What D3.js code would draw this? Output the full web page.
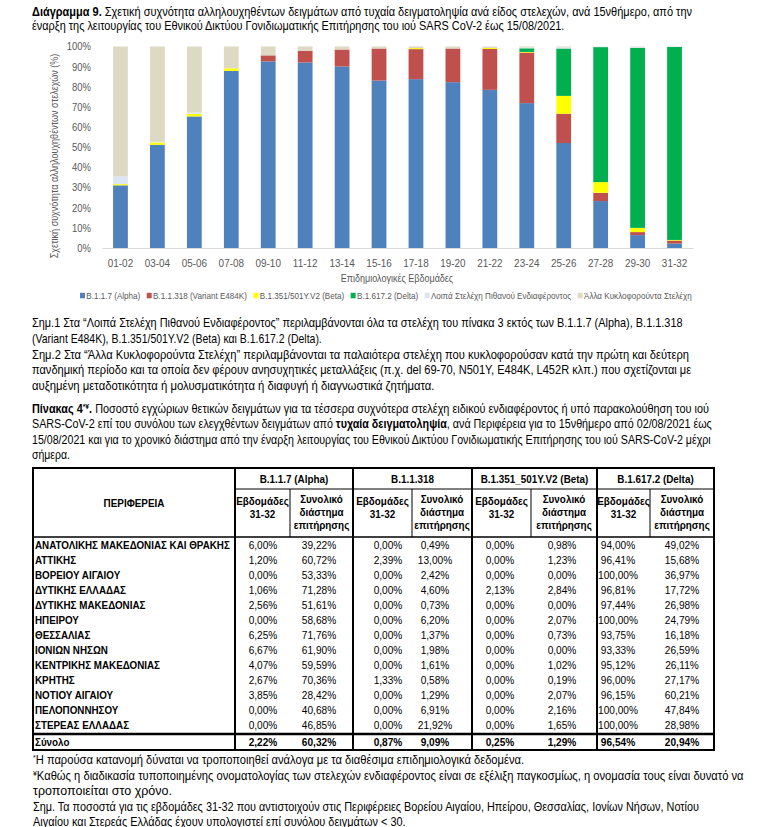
<!DOCTYPE html>
<html><head><meta charset="utf-8">
<script src="https://cdn.jsdelivr.net/npm/d3@7"></script>
<style>
html,body{margin:0;padding:0;background:#fff;}
svg{display:block;font-family:"Liberation Sans",Arial,sans-serif;}
</style></head>
<body>
<svg id="c" width="771" height="827"></svg>
<script>
// ---------- chart data ----------
const periods = ["01-02","03-04","05-06","07-08","09-10","11-12","13-14","15-16","17-18","19-20","21-22","23-24","25-26","27-28","29-30","31-32"];
const alpha   = [31.1,51.2,65.3,87.9,92.6,92.1,90.1,83.1,83.8,82.3,78.5,71.9,52.1,23.3,6.4,2.2];
const e484k   = [0,0,0,0,3.0,5.8,8.4,15.9,14.9,16.7,20.3,25.1,14.5,4.1,1.5,1.5];
const beta    = [0.6,1.2,1.3,1.3,0,0,0,0,0.5,0,0.5,0.3,8.9,5.3,2.1,0.3];
const delta   = [0,0,0,0,0,0,0,0,0,0,0,1.8,23.5,67.0,89.3,95.8];
const otherInterest = [3.8,0.3,0.6,0,0,0,0,0,0,0,0,0.4,0.6,0.2,0.5,0.2];
const otherCirculating = [64.5,47.3,32.8,10.8,4.4,2.1,1.5,1.0,0.8,1.0,0.7,0.5,0.4,0.1,0.2,0];
const seriesNames = ["B.1.1.7 (Alpha)","B.1.1.318 (Variant E484K)","B.1.351/501Y.V2 (Beta)","B.1.617.2 (Delta)","Λοιπά Στελέχη Πιθανού Ενδιαφέροντος","Άλλα Κυκλοφορούντα Στελέχη"];
const yTicks = [0,10,20,30,40,50,60,70,80,90,100];

// ---------- table data ----------
const regions = ["ΑΝΑΤΟΛΙΚΗΣ ΜΑΚΕΔΟΝΙΑΣ ΚΑΙ ΘΡΑΚΗΣ","ΑΤΤΙΚΗΣ","ΒΟΡΕΙΟΥ ΑΙΓΑΙΟΥ","ΔΥΤΙΚΗΣ ΕΛΛΑΔΑΣ","ΔΥΤΙΚΗΣ ΜΑΚΕΔΟΝΙΑΣ","ΗΠΕΙΡΟΥ","ΘΕΣΣΑΛΙΑΣ","ΙΟΝΙΩΝ ΝΗΣΩΝ","ΚΕΝΤΡΙΚΗΣ ΜΑΚΕΔΟΝΙΑΣ","ΚΡΗΤΗΣ","ΝΟΤΙΟΥ ΑΙΓΑΙΟΥ","ΠΕΛΟΠΟΝΝΗΣΟΥ","ΣΤΕΡΕΑΣ ΕΛΛΑΔΑΣ","Σύνολο"];
const alphaWeeks = [6.00,1.20,0,1.06,2.56,0,6.25,6.67,4.07,2.67,3.85,0,0,2.22];
const alphaTotal = [39.22,60.72,53.33,71.28,51.61,58.68,71.76,61.90,59.59,70.36,28.42,40.68,46.85,60.32];
const e484kWeeks = [0,2.39,0,0,0,0,0,0,0,1.33,0,0,0,0.87];
const e484kTotal = [0.49,13.00,2.42,4.60,0.73,6.20,1.37,1.98,1.61,0.58,1.29,6.91,21.92,9.09];
const betaWeeks = [0,0,0,2.13,0,0,0,0,0,0,0,0,0,0.25];
const betaTotal = [0.98,1.23,0,2.84,0,2.07,0.73,0,1.02,0.19,2.07,2.16,1.65,1.29];
const deltaWeeks = [94.00,96.41,100,96.81,97.44,100,93.75,93.33,95.12,96.00,96.15,100,100,96.54];
const deltaTotal = [49.02,15.68,36.97,17.72,26.98,24.79,16.18,26.59,26.11,27.17,60.21,47.84,28.98,20.94];
const groupLabels = ["B.1.1.7 (Alpha)","B.1.1.318","B.1.351_501Y.V2 (Beta)","B.1.617.2 (Delta)"];

// ---------- helpers ----------
const svg = d3.select("#c");
const colors = ["#4f81bd","#c0504d","#ffff00","#00b050","#dce6f2","#ddd9c3"];

function squeeze(sel, k){
  sel.each(function(){
    const L = this.getComputedTextLength();
    if (L>0) d3.select(this).attr("textLength", L*k).attr("lengthAdjust","spacingAndGlyphs");
  });
  return sel;
}
// paragraph line: segments [{t, b, sup}], stretched to target width
function line(x, yc, segs, size, targetW){
  const t = svg.append("text").attr("font-size", size).attr("fill","#000");
  let up = false;
  segs.forEach(s=>{
    const ts = t.append("tspan").text(s.t);
    if (s.b) ts.attr("font-weight","bold");
    if (s.sup){ ts.attr("font-size", size*0.62).attr("dy", -size*0.38); up = true; }
    else if (up){ ts.attr("dy", size*0.38); up = false; }
  });
  const L = t.node().getComputedTextLength();
  const k = targetW ? targetW/L : 0.88;
  t.attr("transform", `translate(${x},${yc + size*0.36}) scale(${k},1)`);
}

// ---------- title ----------
line(32, 12, [{t:"Διάγραμμα 9.", b:true},{t:" Σχετική συχνότητα αλληλουχηθέντων δειγμάτων από τυχαία δειγματοληψία ανά είδος στελεχών, ανά 15νθήμερο, από την"}], 12, 660);
line(32, 26, [{t:"έναρξη της λειτουργίας του Εθνικού Δικτύου Γονιδιωματικής Επιτήρησης του ιού SARS CoV-2 έως 15/08/2021."}], 12, 533);

// ---------- chart ----------
const x = d3.scaleBand().domain(periods).range([102,693]).paddingInner(0.6).paddingOuter(0.3);
const y = d3.scaleLinear().domain([0,100]).range([248,46.5]);
const rows = periods.map((p,i)=>({p, s0:alpha[i], s1:e484k[i], s2:beta[i], s3:delta[i], s4:otherInterest[i], s5:otherCirculating[i]}));
const stack = d3.stack().keys(["s0","s1","s2","s3","s4","s5"])(rows);
svg.append("g").selectAll("g").data(stack).join("g").attr("fill",(d,i)=>colors[i])
  .selectAll("rect").data(d=>d).join("rect")
  .attr("x", d=>x(d.data.p)).attr("width", x.bandwidth())
  .attr("y", d=>y(d[1])).attr("height", d=>Math.max(0, y(d[0])-y(d[1])));

const ya = svg.append("g").attr("transform","translate(102,0)")
  .call(d3.axisLeft(y).tickValues(yTicks).tickFormat(d=>d+"%").tickSize(0).tickPadding(11));
ya.select(".domain").remove();
ya.selectAll("text").attr("font-family","Liberation Sans, Arial, sans-serif").attr("font-size",10.5).attr("fill","#595959");
squeeze(ya.selectAll("text"),0.9);

const xa = svg.append("g").attr("transform","translate(0,248)")
  .call(d3.axisBottom(x).tickSize(0).tickPadding(11));
xa.select(".domain").attr("stroke","#d9d9d9").attr("stroke-width",1);
xa.selectAll("text").attr("font-family","Liberation Sans, Arial, sans-serif").attr("font-size",11).attr("fill","#595959");
squeeze(xa.selectAll("text"),0.9);

squeeze(svg.append("text").attr("transform","translate(58,156) rotate(-90)").attr("text-anchor","middle")
  .attr("font-size",10).attr("fill","#595959").text("Σχετική συχνότητα αλληλουχηθέντων στελεχών (%)"),0.9);
squeeze(svg.append("text").attr("x",397).attr("y",281.5).attr("text-anchor","middle")
  .attr("font-size",10).attr("fill","#595959").text("Επιδημιολογικές Εβδομάδες"),0.9);

// legend: laid out with natural widths, then fitted into its span
const lg = svg.append("g");
let lx = 0;
seriesNames.forEach((n,i)=>{
  lg.append("rect").attr("x",lx).attr("y",-3.2).attr("width",5.5).attr("height",5.5).attr("fill",colors[i]);
  const t = lg.append("text").attr("x",lx+7).attr("y",2.8).attr("font-size",9).attr("fill","#595959").text(n);
  lx += 7 + t.node().getComputedTextLength() + 7;
});
const legW = lx - 7, legK = (692-80)/legW;
lg.attr("transform",`translate(80,296) scale(${legK},1)`);

// ---------- notes ----------
line(32, 323, [{t:"Σημ.1 Στα “Λοιπά Στελέχη Πιθανού Ενδιαφέροντος” περιλαμβάνονται όλα τα στελέχη του πίνακα 3 εκτός των B.1.1.7 (Alpha), B.1.1.318"}], 12, 651);
line(32, 339, [{t:"(Variant E484K), B.1.351/501Y.V2 (Beta) και B.1.617.2 (Delta)."}], 12, 290);
line(32, 355, [{t:"Σημ.2 Στα “Άλλα Κυκλοφορούντα Στελέχη” περιλαμβάνονται τα παλαιότερα στελέχη που κυκλοφορούσαν κατά την πρώτη και δεύτερη"}], 12, 658);
line(32, 370, [{t:"πανδημική περίοδο και τα οποία δεν φέρουν ανησυχητικές μεταλλάξεις (π.χ. del 69-70, N501Y, E484K, L452R κλπ.) που σχετίζονται με"}], 12, 660);
line(32, 386, [{t:"αυξημένη μεταδοτικότητα ή μολυσματικότητα ή διαφυγή ή διαγνωστικά ζητήματα."}], 12, 403);

line(32, 409, [{t:"Πίνακας 4", b:true},{t:"*¥", b:true, sup:true},{t:".", b:true},{t:" Ποσοστό εγχώριων θετικών δειγμάτων για τα τέσσερα συχνότερα στελέχη ειδικού ενδιαφέροντος ή υπό παρακολούθηση του ιού"}], 12, 678);
line(32, 424, [{t:"SARS-CoV-2 επί του συνόλου των ελεγχθέντων δειγμάτων από "},{t:"τυχαία δειγματοληψία", b:true},{t:", ανά Περιφέρεια για το 15νθήμερο από 02/08/2021 έως"}], 12, 681);
line(32, 440, [{t:"15/08/2021 και για το χρονικό διάστημα από την έναρξη λειτουργίας του Εθνικού Δικτύου Γονιδιωματικής Επιτήρησης του ιού SARS-CoV-2 μέχρι"}], 12, 680);
line(32, 455, [{t:"σήμερα."}], 12, 38);

// ---------- table ----------
const T = {left:33, right:714, top:468, sep:489, head:537, rowY0:545, rowH:15, sumSep:734, sumY:742, bottom:750, regionCol:235};
const groupEdges = [235,353,472,597,714];
const subSep = [290,412,531,650];
const colCenters = [[263,319],[388,435],[500,562],[618,682]];
const tableCols = [[alphaWeeks,alphaTotal],[e484kWeeks,e484kTotal],[betaWeeks,betaTotal],[deltaWeeks,deltaTotal]];
const fmt = v => d3.format(".2f")(v).replace(".",",")+"%";
const tg = svg.append("g").attr("font-size",11.5).attr("fill","#000");

// table text: horizontally condensed with a transform so its box matches what is drawn
function tText(xp, yc, s, opts={}){
  const t = tg.append("text").attr("x",0).attr("y",0).text(s)
    .attr("text-anchor", opts.anchor||"middle");
  if (opts.b) t.attr("font-weight","bold");
  const k = opts.k||0.86;
  t.attr("transform", `translate(${xp},${yc+4}) scale(${k},1)`);
  return t;
}
// header
tText((T.left+T.regionCol)/2, 503, "ΠΕΡΙΦΕΡΕΙΑ", {b:true});
groupLabels.forEach((g,i)=>{
  tText((groupEdges[i]+groupEdges[i+1])/2, 479, g, {b:true});
  const h1 = (groupEdges[i]+subSep[i])/2, h2 = (subSep[i]+groupEdges[i+1])/2;
  tText(h1, 501, "Εβδομάδες", {b:true});
  tText(h1, 514, "31-32", {b:true});
  tText(h2, 498.5, "Συνολικό", {b:true});
  tText(h2, 511.5, "διάστημα", {b:true});
  tText(h2, 524.5, "επιτήρησης", {b:true});
});
// body: region names share one compression, fitted so the longest fills its cell
const probe = tg.append("text").attr("font-weight","bold").text(regions[0]);
const regionK = 195 / probe.node().getComputedTextLength();
probe.remove();
regions.forEach((r,i)=>{
  const last = i===regions.length-1;
  const yc = last ? T.sumY : T.rowY0 + i*T.rowH;
  tText(T.left+2, yc, r, {b:true, anchor:"start", k: regionK});
  tableCols.forEach((pair,g)=>{
    pair.forEach((arr,j)=>{
      tText(colCenters[g][j], yc, fmt(arr[i]), {b:last, k:0.88});
    });
  });
});
// lines
const ln = (x1,y1,x2,y2,w)=>tg.append("line").attr("x1",x1).attr("y1",y1).attr("x2",x2).attr("y2",y2).attr("stroke","#000").attr("stroke-width",w);
ln(T.left-1,T.top,T.right+1,T.top,2);
ln(T.regionCol,T.sep,T.right,T.sep,1);
subSep.forEach(s=>ln(s,T.sep,s,T.head,1));
ln(T.left,T.head,T.right,T.head,1.5);
ln(T.left,T.sumSep,T.right,T.sumSep,2.5);
ln(T.left-1,T.bottom,T.right+1,T.bottom,2);
[T.left, ...groupEdges].forEach(e=>ln(e,T.top,e,T.bottom,2));

// ---------- footnotes ----------
line(33, 760, [{t:"*", sup:true},{t:"Η παρούσα κατανομή δύναται να τροποποιηθεί ανάλογα με τα διαθέσιμα επιδημιολογικά δεδομένα."}], 12, 492);
line(33, 776, [{t:"¥", sup:true},{t:"Καθώς η διαδικασία τυποποιημένης ονοματολογίας των στελεχών ενδιαφέροντος είναι σε εξέλιξη παγκοσμίως, η ονομασία τους είναι δυνατό να"}], 12, 711);
line(33, 791, [{t:"τροποποιείται στο χρόνο."}], 12, 139);
line(33, 807, [{t:"Σημ. Τα ποσοστά για τις εβδομάδες 31-32 που αντιστοιχούν στις Περιφέρειες Βορείου Αιγαίου, Ηπείρου, Θεσσαλίας, Ιονίων Νήσων, Νοτίου"}], 12, 667);
line(33, 822, [{t:"Αιγαίου και Στερεάς Ελλάδας έχουν υπολογιστεί επί συνόλου δειγμάτων < 30."}], 12, 373);
</script>
</body></html>
